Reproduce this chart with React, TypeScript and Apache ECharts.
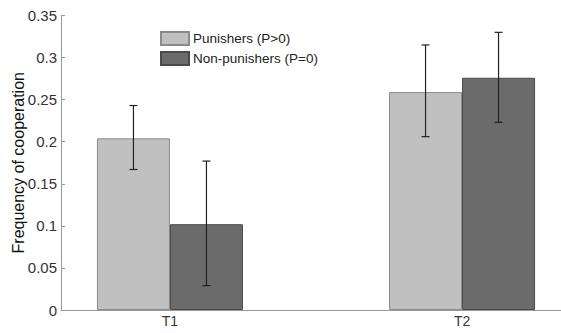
import React, { useEffect, useRef } from "react";
import * as echarts from "echarts";

const categories = ["T1", "T2"];
const positions = [1, 2];
const punishers = [0.204, 0.259];
const nonPunishers = [0.102, 0.276];
const punishersLow = [0.167, 0.206];
const punishersHigh = [0.243, 0.315];
const nonPunishersLow = [0.029, 0.223];
const nonPunishersHigh = [0.177, 0.33];
const yTicks = [0, 0.05, 0.1, 0.15, 0.2, 0.25, 0.3, 0.35];

const FONT = "Liberation Sans, Arial, sans-serif";
const BAR_W = 73;

export default function App() {
  const ref = useRef<HTMLDivElement>(null);
  useEffect(() => {
    document.body.style.margin = "0";
    const chart = echarts.init(ref.current!, null, { renderer: "svg" });
    const errSeries = (name: string, low: number[], high: number[], side: number) => ({
      type: "custom",
      name: name + " err",
      silent: true,
      z: 10,
      data: positions.map((p, i) => [p, low[i], high[i]]),
      renderItem: (params: any, api: any) => {
        const x = api.value(0);
        const lo = api.coord([x, api.value(1)]);
        const hi = api.coord([x, api.value(2)]);
        const cx = lo[0] + side * BAR_W / 2;
        const cap = 4;
        const style = { stroke: "#222222", lineWidth: 1.2 };
        return {
          type: "group",
          children: [
            { type: "line", shape: { x1: cx, y1: lo[1], x2: cx, y2: hi[1] }, style },
            { type: "line", shape: { x1: cx - cap, y1: lo[1], x2: cx + cap, y2: lo[1] }, style },
            { type: "line", shape: { x1: cx - cap, y1: hi[1], x2: cx + cap, y2: hi[1] }, style },
          ],
        };
      },
    });
    chart.setOption({
      animation: false,
      backgroundColor: "#ffffff",
      grid: {
        left: 61,
        right: -10,
        top: 15.5,
        bottom: 23,
        containLabel: false,
        outerBoundsMode: "none",
      },
      legend: {
        orient: "vertical",
        left: 155,
        top: 26,
        itemWidth: 28,
        itemHeight: 13,
        itemGap: 5,
        data: [
          { name: "Punishers (P>0)", icon: "rect" },
          { name: "Non-punishers (P=0)", icon: "rect" },
        ],
        textStyle: { fontFamily: FONT, fontSize: 13.5, color: "#222222", padding: [0, 0, 0, -1] },
      },
      xAxis: {
        type: "value",
        min: 0.627,
        max: 2.373,
        splitLine: { show: false },
        axisLine: { show: true, onZero: false, lineStyle: { color: "#999999", width: 1 } },
        axisTick: { show: false },
        axisLabel: {
          customValues: positions,
          formatter: (v: number) => categories[positions.indexOf(v)] ?? "",
          fontFamily: FONT,
          fontSize: 14,
          color: "#333333",
          margin: 4,
        },
      },
      yAxis: {
        type: "value",
        min: 0,
        max: 0.35,
        interval: 0.05,
        name: "Frequency of cooperation",
        nameLocation: "middle",
        nameRotate: 90,
        nameGap: 35,
        nameMoveOverlap: false,
        nameTextStyle: { fontFamily: FONT, fontSize: 16, color: "#111111" },
        splitLine: { show: false },
        axisLine: { show: true, lineStyle: { color: "#999999", width: 1 } },
        axisTick: { show: true, inside: true, length: 4, lineStyle: { color: "#999999" } },
        axisLabel: {
          fontFamily: FONT,
          fontSize: 15,
          color: "#333333",
          margin: 4,
          formatter: (v: number) => {
            const t = yTicks.find((k) => Math.abs(k - v) < 1e-9);
            return t === undefined ? "" : String(t);
          },
        },
      },
      series: [
        {
          type: "bar",
          name: "Punishers (P>0)",
          barWidth: BAR_W,
          barGap: "0%",
          data: positions.map((p, i) => [p, punishers[i]]),
          itemStyle: { color: "#c0c0c0", borderColor: "#8a8a8a", borderWidth: 1 },
        },
        {
          type: "bar",
          name: "Non-punishers (P=0)",
          barWidth: BAR_W,
          barGap: "0%",
          data: positions.map((p, i) => [p, nonPunishers[i]]),
          itemStyle: { color: "#6b6b6b", borderColor: "#4a4a4a", borderWidth: 1 },
        },
        errSeries("Punishers (P>0)", punishersLow, punishersHigh, -1),
        errSeries("Non-punishers (P=0)", nonPunishersLow, nonPunishersHigh, 1),
      ],
    });
    return () => chart.dispose();
  }, []);
  return (
    <div
      ref={ref}
      style={{ position: "fixed", left: 0, top: 0, width: 561, height: 333, background: "#fff" }}
    />
  );
}
